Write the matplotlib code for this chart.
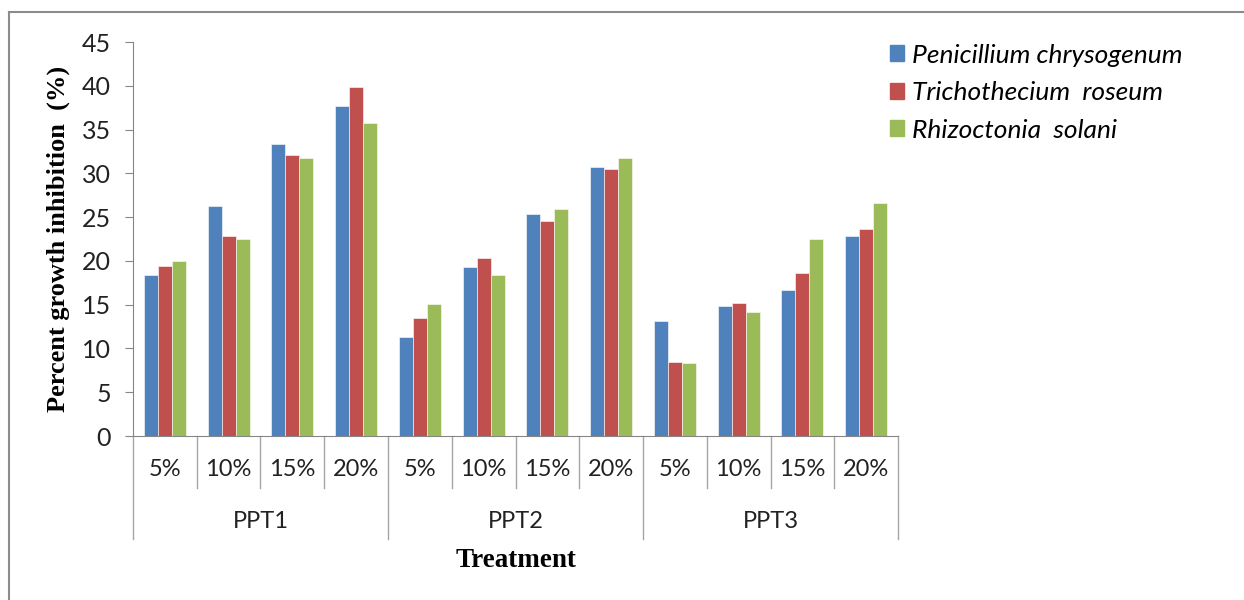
import matplotlib.pyplot as plt
from matplotlib.lines import Line2D
from matplotlib.patches import Patch

# data
groups = ["PPT1", "PPT2", "PPT3"]
doses = ["5%", "10%", "15%", "20%"]
series_names = ["Penicillium chrysogenum", "Trichothecium  roseum", "Rhizoctonia  solani"]
penicillium = [18.4, 26.3, 33.3, 37.7, 11.3, 19.3, 25.4, 30.7, 13.1, 14.9, 16.7, 22.8]
trichothecium = [19.4, 22.9, 32.1, 39.9, 13.5, 20.3, 24.5, 30.5, 8.5, 15.2, 18.6, 23.7]
rhizoctonia = [20.0, 22.5, 31.7, 35.8, 15.1, 18.4, 25.9, 31.7, 8.3, 14.2, 22.5, 26.6]
colors = ["#4F81BD", "#C0504D", "#9BBB59"]

plt.rcParams["font.family"] = ["Lato", "DejaVu Sans"]
grey = "#868686"
txt = "#222222"

fig = plt.figure(figsize=(12.44, 6), dpi=100)
ax = fig.add_axes([0.1069, 0.2733, 0.615, 0.6567])

n = len(groups) * len(doses)
centers = [i + 0.5 for i in range(n)]
w = 0.22
for k, vals in enumerate([penicillium, trichothecium, rhizoctonia]):
    xs = [c + (k - 1) * w for c in centers]
    ax.bar(xs, vals, width=w, color=colors[k], edgecolor="white", linewidth=0.4,
           label=series_names[k], zorder=2)

ax.set_xlim(0, n)
ax.set_ylim(0, 45)
ax.set_yticks(range(0, 46, 5))
ax.tick_params(axis="y", labelsize=18, length=6, color=grey, pad=10, labelcolor=txt)
ax.set_xticks([])
for s in ["top", "right"]:
    ax.spines[s].set_visible(False)
ax.spines["left"].set_color(grey)
ax.spines["bottom"].set_color(grey)

# two-level category axis
tr = ax.get_xaxis_transform()
for i in range(n + 1):
    lo = -0.261 if i % 4 == 0 else -0.132
    ax.add_line(Line2D([i, i], [0, lo], transform=tr, color="#a6a6a6", lw=1, clip_on=False))
for i in range(n):
    ax.text(centers[i], -0.086, doses[i % 4], transform=tr, ha="center", va="center",
            fontsize=17, color=txt)
for g, name in enumerate(groups):
    ax.text(g * 4 + 2, -0.218, name, transform=tr, ha="center", va="center",
            fontsize=17, color=txt)

ax.text(6, -0.315, "Treatment", transform=tr, ha="center", va="center",
        fontsize=19.5, fontweight="bold", family="Liberation Serif")
fig.text(58 / 1244, 1 - 239 / 600, "Percent growth inhibition  (%)", rotation=90,
         ha="center", va="center", fontsize=19, fontweight="bold", family="Liberation Serif")

handles = [Patch(color=c) for c in colors]
leg = fig.legend(handles, series_names, loc="upper left",
                 bbox_to_anchor=(866 / 1244, 1 - 20 / 600), frameon=False,
                 prop={"style": "italic", "size": 19}, handlelength=0.55, handleheight=0.55,
                 handletextpad=0.3, labelspacing=0.55)

# border of the chart area
fig.add_artist(Line2D([9 / 1244, 9 / 1244], [0, 1 - 12 / 600], color="#8c8c8c", lw=1.5))
fig.add_artist(Line2D([9 / 1244, 1], [1 - 12 / 600, 1 - 12 / 600], color="#8c8c8c", lw=1.5))

fig.savefig("out.png", dpi=100)
